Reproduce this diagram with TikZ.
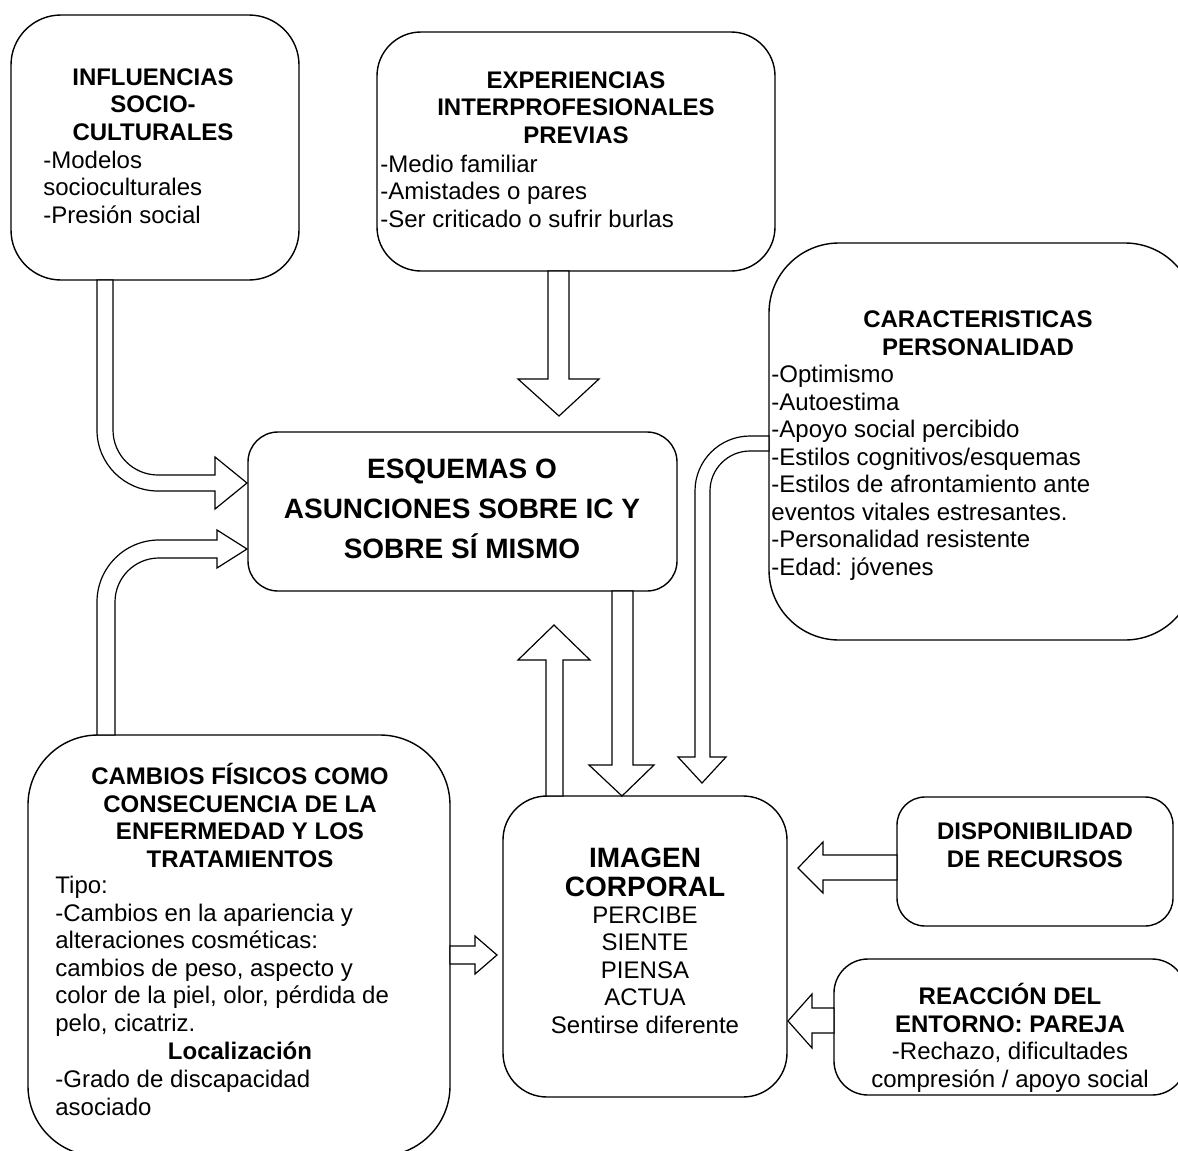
\documentclass[tikz,border=0pt]{standalone}
\usepackage{fontspec}
\setmainfont{Liberation Sans}
\usetikzlibrary{positioning,fit}

\newcommand\bodyfont{\fontsize{12}{13.75}\selectfont}
\tikzset{
  box/.style={draw,line width=0.7pt,rounded corners=#1,inner sep=0pt},
  blk/.style={draw,fill=white,line width=0.6pt,line join=miter},
  ttl/.style={anchor=base,align=center,inner sep=0pt,font=\bodyfont\bfseries},
  lst/.style={anchor=base west,align=left,inner sep=0pt,font=\bodyfont},
  mid/.style={anchor=base,align=center,inner sep=0pt,font=\bodyfont},
}

\begin{document}
\begin{tikzpicture}[x=0.5pt,y=-0.5pt]
\useasboundingbox (0,0) rectangle (1178,1151);
\clip (0,0) rectangle (1178,1151);

% boxes
\node[box=25pt,fit={(11,15) (299,280)}] (infl) {};
\node[box=22pt,fit={(377,32) (775,271)}] (exper) {};
\node[box=35pt,fit={(769,243) (1195,640)}] (caract) {};
\node[box=15pt,fit={(248,432) (677,591)}] (esq) {};
\node[box=35pt,fit={(28,735) (450,1156)}] (camb) {};
\node[box=22pt,fit={(503,796) (787,1097)}] (img) {};
\node[box=14pt,fit={(897,797) (1173,926)}] (disp) {};
\node[box=17pt,fit={(834,959) (1186,1095)}] (reac) {};

% texts (anchored at the baseline of the last line)
\node[ttl] (infl-t) at (153,140) {INFLUENCIAS\\SOCIO-\\CULTURALES};
\node[lst] (infl-l) at (43,223) {-Modelos\\socioculturales\\-Presión social};

\node[ttl] (exper-t) at (576,143) {EXPERIENCIAS\\INTERPROFESIONALES\\PREVIAS};
\node[lst] (exper-l) at (380,227) {-Medio familiar\\-Amistades o pares\\-Ser criticado o sufrir burlas};

\node[ttl] (caract-t) at (978,355) {CARACTERISTICAS\\PERSONALIDAD};
\node[lst] (caract-l) at (771,575) {-Optimismo\\-Autoestima\\-Apoyo social percibido\\-Estilos cognitivos/esquemas\\-Estilos de afrontamiento ante\\eventos vitales estresantes.\\-Personalidad resistente\\-Edad: jóvenes};

\node[ttl,font=\fontsize{14}{20}\selectfont\bfseries] (esq-t) at (462,558) {ESQUEMAS O\\ASUNCIONES SOBRE IC Y\\SOBRE SÍ MISMO};

\node[ttl] (camb-t) at (240,867) {CAMBIOS FÍSICOS COMO\\CONSECUENCIA DE LA\\ENFERMEDAD Y LOS\\TRATAMIENTOS};
\node[lst] (camb-l) at (55,1031) {Tipo:\\-Cambios en la apariencia y\\alteraciones cosméticas:\\cambios de peso, aspecto y\\color de la piel, olor, pérdida de\\pelo, cicatriz.};
\node[ttl] (camb-loc) at (240,1059) {Localización};
\node[lst] (camb-g) at (55,1115) {-Grado de discapacidad\\asociado};

\node[ttl,font=\fontsize{14}{14.5}\selectfont\bfseries] (img-t) at (645,896) {IMAGEN\\CORPORAL};
\node[mid] (img-l) at (645,1033) {PERCIBE\\SIENTE\\PIENSA\\ACTUA\\Sentirse diferente};

\node[ttl] (disp-t) at (1035,867) {DISPONIBILIDAD\\DE RECURSOS};

\node[ttl] (reac-t) at (1010,1032) {REACCIÓN DEL\\ENTORNO: PAREJA};
\node[mid] (reac-l) at (1010,1087) {-Rechazo, dificultades\\compresión / apoyo social};

% block arrows
\draw[blk] (97,280) -- (97,430) arc[start angle=180,end angle=90,radius=61] -- (215,491)
  -- (215,509) -- (247,483) -- (215,457) -- (215,475) -- (158,475)
  arc[start angle=90,end angle=180,radius=45] -- (113,280) -- cycle;
\draw[blk] (97,735) -- (97,602) arc[start angle=180,end angle=270,radius=62] -- (217,540)
  -- (217,530) -- (247,549) -- (217,568) -- (217,558) -- (159,558)
  arc[start angle=270,end angle=180,radius=44] -- (115,735) -- cycle;
\draw[blk] (548,271) -- (548,379) -- (518,379) -- (559,416) -- (599,379) -- (569,379) -- (569,271) -- cycle;
\draw[blk] (612,591) -- (612,765) -- (589,765) -- (622,796) -- (654,765) -- (633,765) -- (633,591) -- cycle;
\draw[blk] (546,796) -- (546,660) -- (518,660) -- (554,625) -- (590,660) -- (563,660) -- (563,796) -- cycle;
\draw[blk] (769,436) -- (750,436) arc[start angle=270,end angle=180,radius=55] -- (695,757)
  -- (678,757) -- (702,783) -- (726,757) -- (710,757) -- (710,491)
  arc[start angle=180,end angle=270,radius=40] -- (769,451) -- cycle;
\draw[blk] (897,855) -- (823,855) -- (823,842) -- (798,868) -- (823,893) -- (823,880) -- (897,880) -- cycle;
\draw[blk] (834,1008) -- (812,1008) -- (812,994) -- (788,1021) -- (812,1048) -- (812,1033) -- (834,1033) -- cycle;
\draw[blk] (450,946) -- (475,946) -- (475,936) -- (497,955) -- (475,974) -- (475,964) -- (450,964) -- cycle;
\end{tikzpicture}
\end{document}
